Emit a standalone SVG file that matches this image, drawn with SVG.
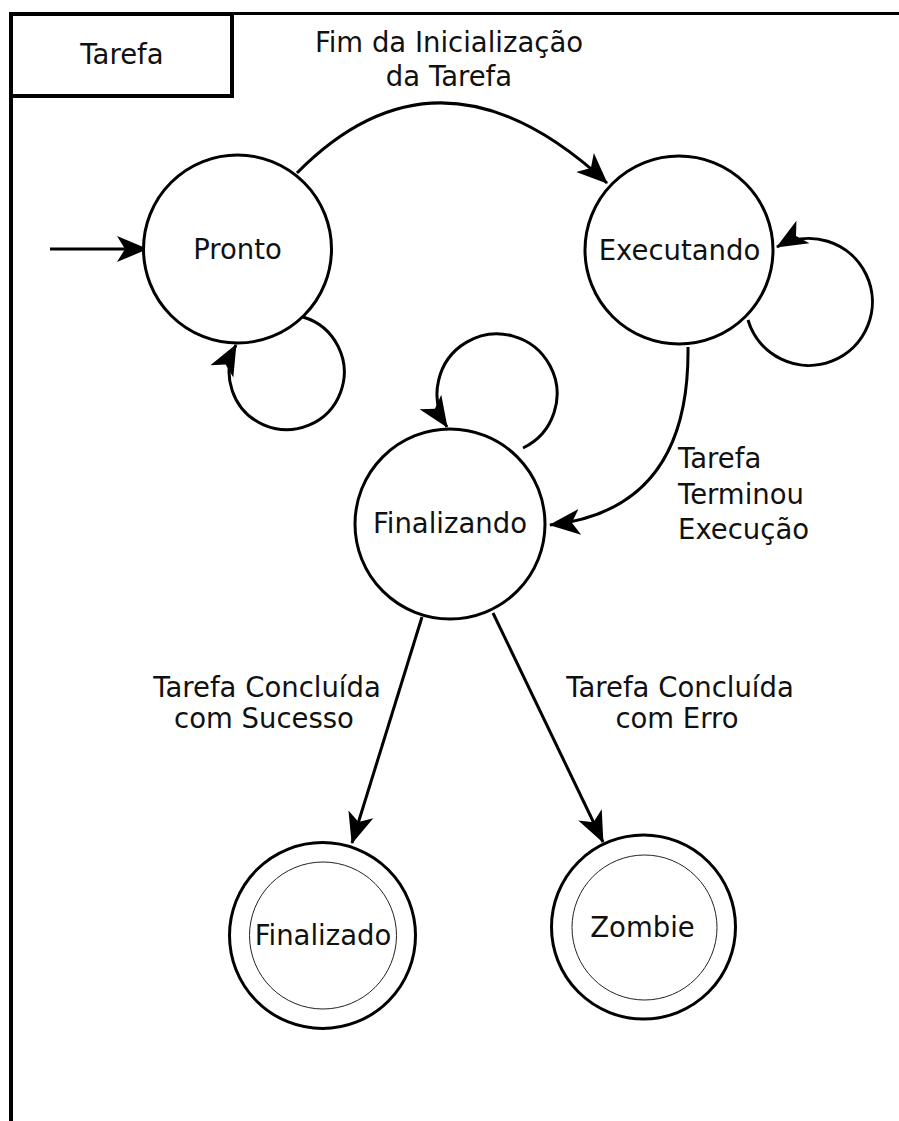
<svg xmlns="http://www.w3.org/2000/svg" width="899" height="1121" viewBox="0 0 899 1121">
  <style>
    .state { fill: #ffffff; stroke: #000000; stroke-width: 3; }
    .inner { fill: none; stroke: #222222; stroke-width: 1; }
    .label { font-family: "DejaVu Sans", "Liberation Sans", sans-serif; font-size: 27.5px; fill: #111111; }
    .mid { text-anchor: middle; }
    .edge { fill: none; stroke: #000000; stroke-width: 3; marker-end: url(#arrow); }
    .frame { fill: none; stroke: #000000; }
  </style>
  <defs>
    <marker id="arrow" markerUnits="userSpaceOnUse" viewBox="0 0 32 28" markerWidth="32" markerHeight="28" refX="30" refY="14" orient="auto">
      <path d="M0,1 L31,14 L0,27 L8,14 Z" fill="#000000"/>
    </marker>
  </defs>

  <!-- swimlane frame with title tab -->
  <g id="frame">
    <line class="frame" x1="232" y1="13.5" x2="899" y2="13.5" stroke-width="3"/>
    <line class="frame" x1="11" y1="96" x2="11" y2="1121" stroke-width="4"/>
    <rect class="frame" x="11" y="14" width="221" height="82" stroke-width="4"/>
    <text class="label mid" x="122" y="64">Tarefa</text>
  </g>

  <!-- transitions -->
  <g id="connectors">
    <path class="edge" d="M50,249 L147,249"/>
    <path class="edge" d="M297,173 Q440,28 607,183"/>
    <path class="edge" d="M303,317 A57.5,57.5 0 1,1 236,345"/>
    <path class="edge" d="M748,320 A63.5,63.5 0 1,0 777,247"/>
    <path class="edge" d="M688,347 Q690,510 550,525"/>
    <path class="edge" d="M523,448 A60,60 0 1,0 447,427"/>
    <path class="edge" d="M422,617 L352,843"/>
    <path class="edge" d="M493,613 L603,842"/>
    <text class="label mid" x="449" y="52">Fim da Inicialização</text>
    <text class="label mid" x="449" y="86">da Tarefa</text>
    <text class="label" x="678" y="468">Tarefa</text>
    <text class="label" x="678" y="504">Terminou</text>
    <text class="label" x="678" y="539">Execução</text>
    <text class="label mid" x="267" y="697">Tarefa Concluída</text>
    <text class="label mid" x="264" y="728">com Sucesso</text>
    <text class="label mid" x="680" y="697">Tarefa Concluída</text>
    <text class="label mid" x="677" y="728">com Erro</text>
  </g>

  <g id="pronto">
    <circle class="state" cx="237.5" cy="249" r="94"/>
    <text class="label mid" x="237.5" y="259">Pronto</text>
  </g>

  <g id="executando">
    <circle class="state" cx="679" cy="250" r="94"/>
    <text class="label mid" x="679.5" y="260">Executando</text>
  </g>

  <g id="finalizando">
    <circle class="state" cx="450" cy="524" r="95"/>
    <text class="label mid" x="450" y="533">Finalizando</text>
  </g>

  <g id="finalizado">
    <circle class="state" cx="322.5" cy="935.5" r="93"/>
    <circle class="inner" cx="323" cy="935.5" r="73.5"/>
    <text class="label mid" x="323" y="945">Finalizado</text>
  </g>

  <g id="zombie">
    <circle class="state" cx="643.5" cy="927" r="92"/>
    <circle class="inner" cx="644.5" cy="927.5" r="72.5"/>
    <text class="label mid" x="642.5" y="937">Zombie</text>
  </g>
</svg>
